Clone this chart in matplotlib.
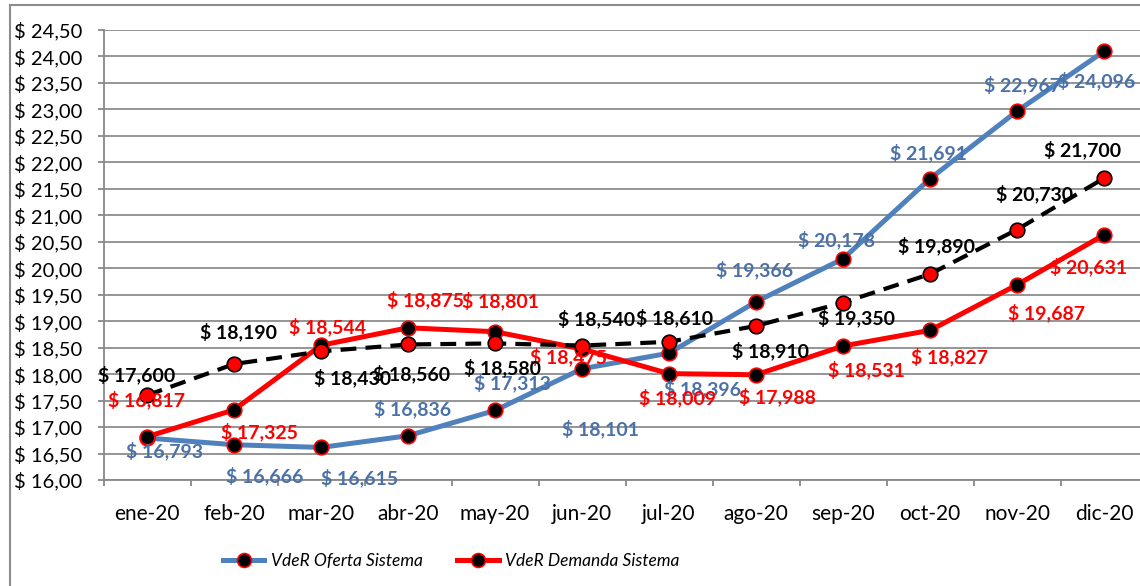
import matplotlib
matplotlib.use("Agg")
import matplotlib.pyplot as plt
from matplotlib import font_manager
from matplotlib.patches import Rectangle
from matplotlib.lines import Line2D

months = ["ene-20", "feb-20", "mar-20", "abr-20", "may-20", "jun-20",
          "jul-20", "ago-20", "sep-20", "oct-20", "nov-20", "dic-20"]
oferta = [16.793, 16.666, 16.615, 16.836, 17.313, 18.101,
          18.396, 19.366, 20.178, 21.691, 22.967, 24.096]
demanda = [16.817, 17.325, 18.544, 18.875, 18.801, 18.475,
           18.009, 17.988, 18.531, 18.827, 19.687, 20.631]
tercera = [17.600, 18.190, 18.430, 18.560, 18.580, 18.540,
           18.610, 18.910, 19.350, 19.890, 20.730, 21.700]
yticks = [16.0 + 0.5 * k for k in range(18)]

# label offsets in pixels (dx, dy) ; dy positive = up
off_of = [(18, -13), (31, -31), (39, -30), (5, 27), (17, 28), (18, -60),
          (33, -36), (-1, 32), (-7, 19), (-1, 26), (5, 26), (-7, -29)]
off_de = [(0, 37), (25, -22), (7, 18), (17, 28), (5, 31), (-14, -8),
          (9, -24), (21, -22), (23, -24), (19, -27), (30, -28), (-15, -32)]
off_te = [(-10, 20), (5, 32), (32, -27), (4, -29), (8, -24), (15, 27),
          (6, 24), (14, -25), (14, -15), (6, 28), (18, 36), (-21, 28)]

BLUE = "#4F81BD"
BLUE_TXT = "#4A71A8"
RED = "#FF0000"

plt.rcParams['font.family'] = ['Lato', 'DejaVu Sans']

names = {f.name for f in font_manager.fontManager.ttflist}
if 'Liberation Sans Narrow' in names:
    leg_prop = {'family': 'Liberation Sans Narrow', 'style': 'italic', 'size': 14.5}
else:
    leg_prop = {'style': 'italic', 'size': 12.5}

fig = plt.figure(figsize=(11.40, 5.86), dpi=100)
ax = fig.add_axes([103.5 / 1140, 1 - 480 / 586, 1044 / 1140, 450 / 586])

x = list(range(len(months)))
ax.plot(x, oferta, color=BLUE, lw=3.6, marker='o', ms=10.5,
        mfc='black', mec=RED, mew=1.2, zorder=3, solid_capstyle='round')
ax.plot(x, demanda, color=RED, lw=3.6, marker='o', ms=10.5,
        mfc='black', mec=RED, mew=1.2, zorder=4)
ax.plot(x, tercera, color='black', lw=3.0, ls=(0, (3.8, 2.2)), marker='o', ms=10.5,
        mfc=RED, mec='black', mew=1.2, zorder=5)

def fmt(v):
    return "$ " + f"{v:.3f}".replace('.', ',')

for series, offs, col in [(oferta, off_of, BLUE_TXT), (demanda, off_de, RED),
                          (tercera, off_te, 'black')]:
    for i, v in enumerate(series):
        ax.annotate(fmt(v), (i, v), xytext=offs[i], textcoords='offset pixels',
                    ha='center', va='center', fontsize=14, fontweight='bold',
                    color=col, zorder=6)

ax.set_xlim(-0.5, len(months) - 0.5)
ax.set_ylim(16.0, 24.5)
ax.set_yticks(yticks)
ax.set_yticklabels(["$ " + f"{t:.2f}".replace('.', ',') for t in yticks])
ax.set_xticks(x)
ax.set_xticklabels(months)
ax.set_xticks([i - 0.5 for i in range(len(months) + 1)], minor=True)
ax.tick_params(axis='x', which='major', length=0, pad=17, labelsize=15)
ax.tick_params(axis='x', which='minor', length=4.5, color='#888888', width=1.3)
ax.tick_params(axis='y', length=4.5, color='#888888', width=1.3, pad=11, labelsize=14.5)

ax.grid(axis='y', color='#8C8C8C', lw=1.3)
ax.set_axisbelow(True)
for s in ['top', 'right']:
    ax.spines[s].set_visible(False)
for s in ['left', 'bottom']:
    ax.spines[s].set_color('#888888')
    ax.spines[s].set_linewidth(1.3)

handles = [Line2D([], [], color=BLUE, lw=3.6, marker='o', ms=10, mfc='black', mec=RED, mew=1.2),
           Line2D([], [], color=RED, lw=3.6, marker='o', ms=10, mfc='black', mec=RED, mew=1.2)]
fig.legend(handles, ["VdeR Oferta Sistema", "VdeR Demanda Sistema"],
           loc='center', bbox_to_anchor=(451 / 1140, 1 - 561 / 586), ncol=2,
           frameon=False, prop=leg_prop,
           handlelength=2.4, columnspacing=2.0, handletextpad=0.35)

fig.patches.append(Rectangle((10 / 1140, -0.1), 1.2, 1.1 - 5 / 586,
                             transform=fig.transFigure, fill=False,
                             edgecolor='#8C8C8C', lw=1.5))

fig.savefig("out.png", dpi=100)
